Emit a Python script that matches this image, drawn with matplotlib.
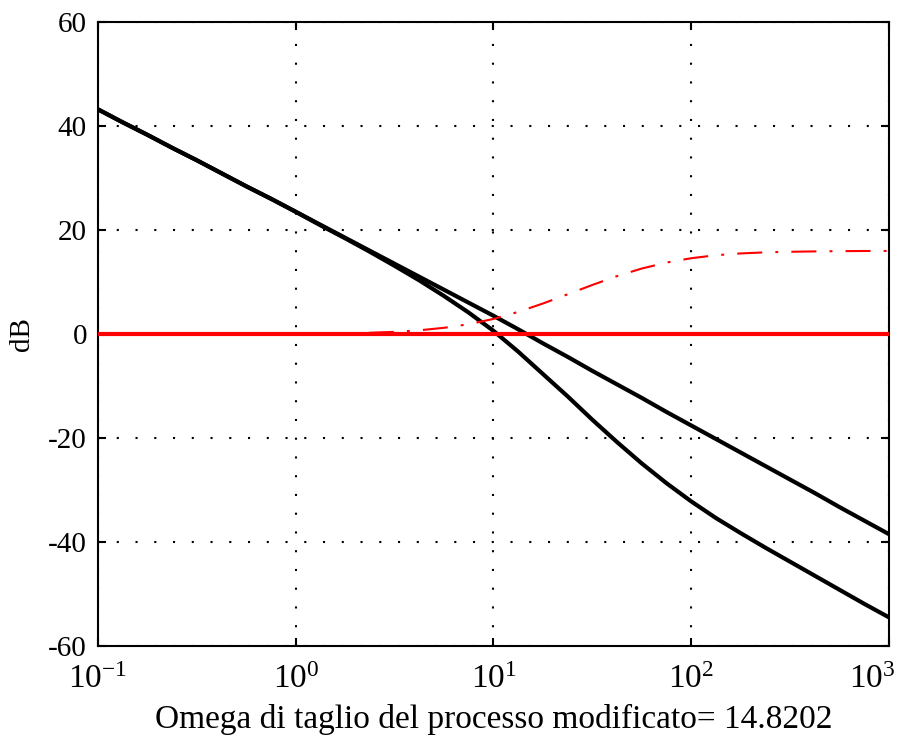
import matplotlib
matplotlib.use('Agg')
import matplotlib.pyplot as plt
import matplotlib.transforms as mtransforms
import numpy as np

# pulsazioni (rad/s), un punto ogni 1/8 di decade da 0.1 a 1000
esponenti = [-1.0, -0.875, -0.75, -0.625, -0.5, -0.375, -0.25, -0.125,
             0.0, 0.125, 0.25, 0.375, 0.5, 0.625, 0.75, 0.875,
             1.0, 1.125, 1.25, 1.375, 1.5, 1.625, 1.75, 1.875,
             2.0, 2.125, 2.25, 2.375, 2.5, 2.625, 2.75, 2.875, 3.0]
omega = [10 ** e for e in esponenti]

# modulo del processo modificato (dB)
mod_modificato = [43.2, 40.7, 38.3, 35.8, 33.4, 30.9, 28.4, 26.0,
                  23.5, 21.0, 18.5, 16.0, 13.5, 11.0, 8.5, 6.0,
                  3.5, 0.9, -1.8, -4.4, -7.1, -9.7, -12.3, -15.0,
                  -17.6, -20.2, -22.8, -25.4, -28.0, -30.6, -33.3, -35.9, -38.5]

# modulo del processo originale (dB)
mod_processo = [43.2, 40.7, 38.3, 35.8, 33.4, 30.9, 28.4, 26.0,
                23.5, 20.9, 18.4, 15.8, 13.1, 10.3, 7.3, 4.1,
                0.6, -3.4, -7.7, -12.0, -16.5, -20.8, -24.9, -28.7,
                -32.2, -35.4, -38.3, -41.1, -43.8, -46.5, -49.2, -51.9, -54.5]

# modulo della rete correttrice (dB)
mod_rete = [0.0, 0.0, 0.0, 0.0, 0.0, 0.0, 0.0, 0.0,
            0.0, 0.1, 0.13, 0.24, 0.41, 0.71, 1.19, 1.88,
            2.9, 4.25, 5.86, 7.63, 9.43, 11.13, 12.59, 13.74,
            14.57, 15.15, 15.49, 15.7, 15.81, 15.88, 15.93, 15.96, 15.97]

riferimento_db = 0
omega_taglio = 14.8202

yticks = [-60, -40, -20, 0, 20, 40, 60]
yticklabels = ['-60', '-40', '-20', '0', '20', '40', '60']
xticks = [0.1, 1, 10, 100, 1000]
xticklabels = [r'$\mathregular{10^{-1}}$', r'$\mathregular{10^{0}}$', r'$\mathregular{10^{1}}$',
               r'$\mathregular{10^{2}}$', r'$\mathregular{10^{3}}$']

plt.rcParams['font.family'] = 'Liberation Serif'
plt.rcParams['mathtext.fontset'] = 'custom'
plt.rcParams['mathtext.rm'] = 'Liberation Serif'

fig = plt.figure(figsize=(9.09, 7.38), dpi=100)
ax = fig.add_axes([0.1078, 0.1247, 0.8702, 0.8455])

ax.semilogx(omega, mod_modificato, color='black', lw=3, zorder=3)
ax.semilogx(omega, mod_processo, color='black', lw=3, zorder=3)
ax.semilogx([omega[0], omega[-1]], [riferimento_db, riferimento_db], color='red', lw=3, zorder=4)
ax.semilogx(omega, mod_rete, color='red', lw=1.5, linestyle=(0, (12, 6.3, 1.4, 6.3)), zorder=5)

ax.set_xlim(0.1, 1000)
ax.set_ylim(-60, 60)
ax.set_xticks(xticks)
ax.set_xticklabels(xticklabels, fontsize=24)
ax.xaxis.set_minor_locator(matplotlib.ticker.NullLocator())
ax.set_yticks(yticks)
ax.set_yticklabels(yticklabels, fontsize=21)

ax.grid(True, color='black', linestyle=(0, (1, 8)), lw=1.5)
ax.tick_params(direction='in', length=6, width=1.5, top=True, right=True)
ax.tick_params(axis='x', pad=13)
ax.tick_params(axis='y', pad=8)
for sp in ax.spines.values():
    sp.set_linewidth(1.5)

# l'ultima etichetta dell'asse x va spostata a sinistra per restare nella figura
ultima = ax.get_xticklabels()[-1]
ultima.set_transform(ultima.get_transform() +
                     mtransforms.ScaledTranslation(-12 / 72, 0, fig.dpi_scale_trans))

ax.set_ylabel('dB', fontsize=21)
ax.yaxis.set_label_coords(-0.08, 0.5)
ax.set_xlabel('Omega di taglio del processo modificato= ' + str(omega_taglio), fontsize=24, labelpad=7)

plt.savefig('out.png', dpi=100)
plt.close(fig)
